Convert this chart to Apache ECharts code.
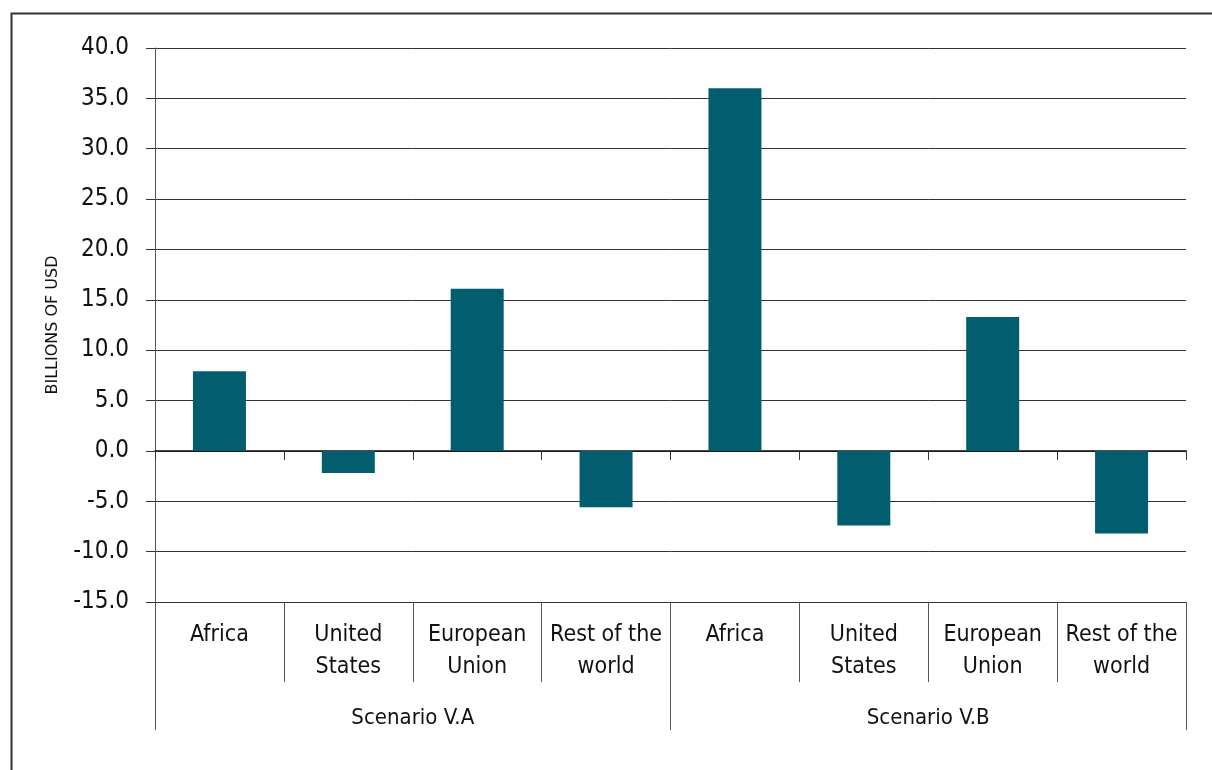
<!DOCTYPE html>
<html>
<head>
<meta charset="utf-8">
<script src="https://cdn.jsdelivr.net/npm/echarts@6/dist/echarts.min.js"></script>
<style>
  html, body { margin: 0; padding: 0; background: #fff; }
  #chart { width: 1212px; height: 770px; }
</style>
</head>
<body>
<div id="chart"></div>
<script>
// categories (inner level) and scenarios (outer level)
var regions = ["Africa", "United\nStates", "European\nUnion", "Rest of the\nworld",
               "Africa", "United\nStates", "European\nUnion", "Rest of the\nworld"];
var scenarios = ["Scenario V.A", "Scenario V.B"];
// billions of USD
var values = [7.9, -2.2, 16.1, -5.6, 36.0, -7.4, 13.3, -8.2];
var yTicks = { min: -15, max: 40, step: 5 };

var font = '"Liberation Sans Narrow", "DejaVu Sans Condensed", "Roboto", sans-serif';
var lineCol = "#333";

var myChart = echarts.init(document.getElementById("chart"));

var option = {
  backgroundColor: "#fff",
  animation: false,
  textStyle: { fontFamily: font },
  graphic: [
    {
      type: "rect",
      shape: { x: 11.5, y: 13.5, width: 1300, height: 900 },
      style: { fill: "none", stroke: "#333", lineWidth: 2 }
    }
  ],
  grid: { left: 155, right: 26, top: 48, bottom: 168 },
  xAxis: [
    {
      type: "category",
      data: regions,
      position: "bottom",
      axisLine: { show: true, onZero: false, lineStyle: { color: lineCol } },
      axisTick: { show: true, interval: 0, length: 80, lineStyle: { color: "#555" } },
      axisLabel: {
        interval: 0,
        margin: 17,
        color: "#111",
        fontFamily: font,
        fontSize: 23,
        lineHeight: 32,
        align: "center"
      }
    },
    {
      type: "category",
      data: scenarios,
      position: "bottom",
      axisLine: { show: false, onZero: false },
      axisTick: { show: true, interval: 0, length: 128, lineStyle: { color: "#555" } },
      axisLabel: {
        interval: 0,
        margin: 105,
        color: "#111",
        fontFamily: font,
        fontSize: 22
      }
    },
    {
      // zero line with its small ticks
      type: "category",
      data: regions.map(function () { return ""; }),
      position: "bottom",
      axisLine: { show: true, onZero: true, lineStyle: { color: "#111", width: 1.5 } },
      axisTick: { show: true, interval: 0, length: 9, lineStyle: { color: lineCol } },
      axisLabel: { show: false }
    }
  ],
  yAxis: {
    type: "value",
    min: yTicks.min,
    max: yTicks.max,
    interval: yTicks.step,
    name: "BILLIONS OF USD",
    nameLocation: "middle",
    nameGap: 94,
    nameRotate: 90,
    nameTextStyle: {
      fontFamily: '"DejaVu Sans", sans-serif',
      fontSize: 16,
      color: "#111"
    },
    axisLine: { show: true, lineStyle: { color: "#555" } },
    axisTick: { show: true, length: 9, lineStyle: { color: lineCol } },
    splitLine: { show: true, lineStyle: { color: lineCol, width: 1 } },
    axisLabel: {
      margin: 26,
      color: "#111",
      fontFamily: font,
      fontSize: 24,
      formatter: function (v) { return v.toFixed(1); }
    }
  },
  series: [
    {
      type: "bar",
      xAxisIndex: 0,
      yAxisIndex: 0,
      data: values,
      barWidth: 53,
      itemStyle: { color: "#025e6e" }
    }
  ]
};

myChart.setOption(option);
</script>
</body>
</html>
